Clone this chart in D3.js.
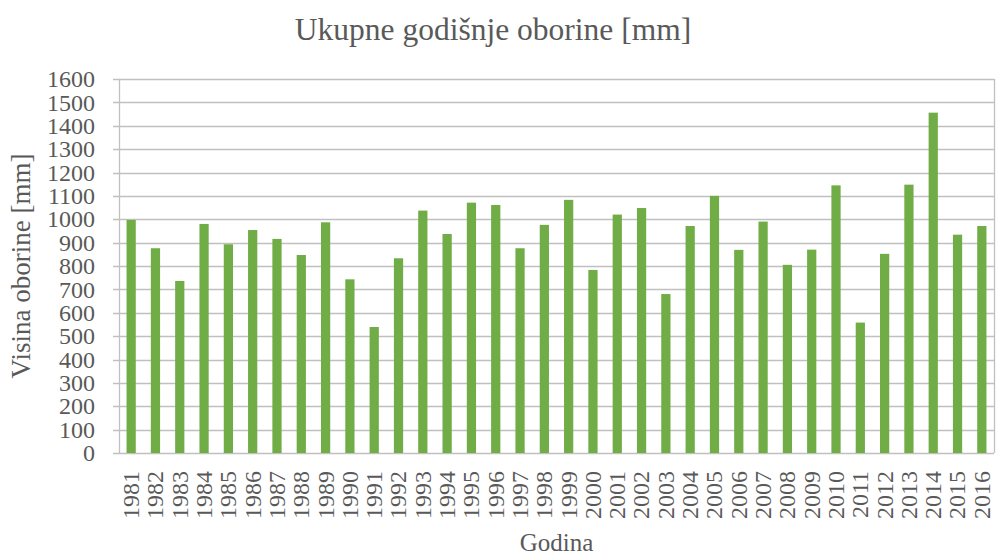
<!DOCTYPE html>
<html>
<head>
<meta charset="utf-8">
<script src="https://cdn.jsdelivr.net/npm/d3@7"></script>
<style>
  body { margin: 0; background: #fff; }
  svg text { font-family: "Liberation Serif", "Times New Roman", serif; fill: #595959; }
</style>
</head>
<body>
<script>
// godine i ukupne oborine (mm), ocitano sa grafa
var years = ["1981", "1982", "1983", "1984", "1985", "1986", "1987", "1988", "1989", "1990",
             "1991", "1992", "1993", "1994", "1995", "1996", "1997", "1998", "1999", "2000",
             "2001", "2002", "2003", "2004", "2005", "2006", "2007", "2008", "2009", "2010",
             "2011", "2012", "2013", "2014", "2015", "2016"];
var rainfall = [997, 876, 736, 980, 893, 954, 916, 847, 987, 743,
                539, 833, 1037, 937, 1071, 1061, 876, 976, 1083, 783,
                1020, 1048, 680, 971, 1100, 869, 990, 805, 870, 1145,
                558, 852, 1148, 1456, 934, 971];
var yTicks = d3.range(0, 1601, 100);

var width = 997, height = 558;
var margin = { top: 79, right: 3, bottom: 105, left: 119 };
var serif = "'Liberation Serif', 'Times New Roman', serif";

var svg = d3.select("body").append("svg")
            .attr("width", width)
            .attr("height", height);

var x = d3.scaleBand()
          .domain(years)
          .range([margin.left, width - margin.right])
          .paddingInner(0.62)
          .paddingOuter(0.31);

var y = d3.scaleLinear()
          .domain([0, 1600])
          .range([height - margin.bottom, margin.top]);

// mreza
svg.append("g")
   .selectAll("line.grid")
   .data(yTicks)
   .enter()
   .append("line")
   .attr("x1", margin.left - 6)
   .attr("x2", width - margin.right)
   .attr("y1", function(d) { return Math.round(y(d)) + 0.5; })
   .attr("y2", function(d) { return Math.round(y(d)) + 0.5; })
   .attr("stroke", "#c0c0c0")
   .attr("stroke-width", 1.3);

// osi
svg.append("line")
   .attr("x1", margin.left + 0.5).attr("x2", margin.left + 0.5)
   .attr("y1", y(1600)).attr("y2", y(0))
   .attr("stroke", "#c0c0c0").attr("stroke-width", 1.3);
svg.append("line")
   .attr("x1", width - margin.right + 0.5).attr("x2", width - margin.right + 0.5)
   .attr("y1", y(1600)).attr("y2", y(0))
   .attr("stroke", "#c0c0c0").attr("stroke-width", 1.3);

var yAxis = svg.append("g")
   .attr("transform", "translate(" + (margin.left - 24) + ",0)")
   .call(d3.axisLeft(y).tickValues(yTicks).tickFormat(d3.format("d")).tickSize(0).tickPadding(0));
yAxis.attr("font-family", serif).attr("font-size", 24);
yAxis.select(".domain").remove();
yAxis.selectAll("text")
     .attr("text-anchor", "end")
     .attr("fill", "#595959");

svg.selectAll("rect.bar")
   .data(rainfall)
   .enter()
   .append("rect")
   .attr("class", "bar")
   .attr("x", function(d, i) { return x(years[i]); })
   .attr("width", x.bandwidth())
   .attr("y", function(d) { return y(d); })
   .attr("height", function(d) { return y(0) - y(d); })
   .attr("fill", "#70ad47");

var xAxis = svg.append("g")
   .attr("transform", "translate(0," + (height - margin.bottom) + ")")
   .call(d3.axisBottom(x).tickSize(0).tickPadding(0));
xAxis.attr("font-family", serif).attr("font-size", 24);
xAxis.select(".domain").remove();
xAxis.selectAll("text")
     .attr("transform", "rotate(-90)")
     .attr("x", -18)
     .attr("y", 0)
     .attr("dy", "0.33em")
     .attr("text-anchor", "end")
     .attr("fill", "#595959");

svg.append("text")
   .attr("x", 493)
   .attr("y", 40)
   .attr("text-anchor", "middle")
   .style("font-size", "31.5px")
   .text("Ukupne godišnje oborine [mm]");

svg.append("text")
   .attr("transform", "translate(30," + ((y(0) + y(1600)) / 2) + ") rotate(-90)")
   .attr("text-anchor", "middle")
   .style("font-size", "27px")
   .text("Visina oborine [mm]");

svg.append("text")
   .attr("x", (margin.left + width - margin.right) / 2)
   .attr("y", 551)
   .attr("text-anchor", "middle")
   .style("font-size", "25px")
   .text("Godina");
</script>
</body>
</html>
